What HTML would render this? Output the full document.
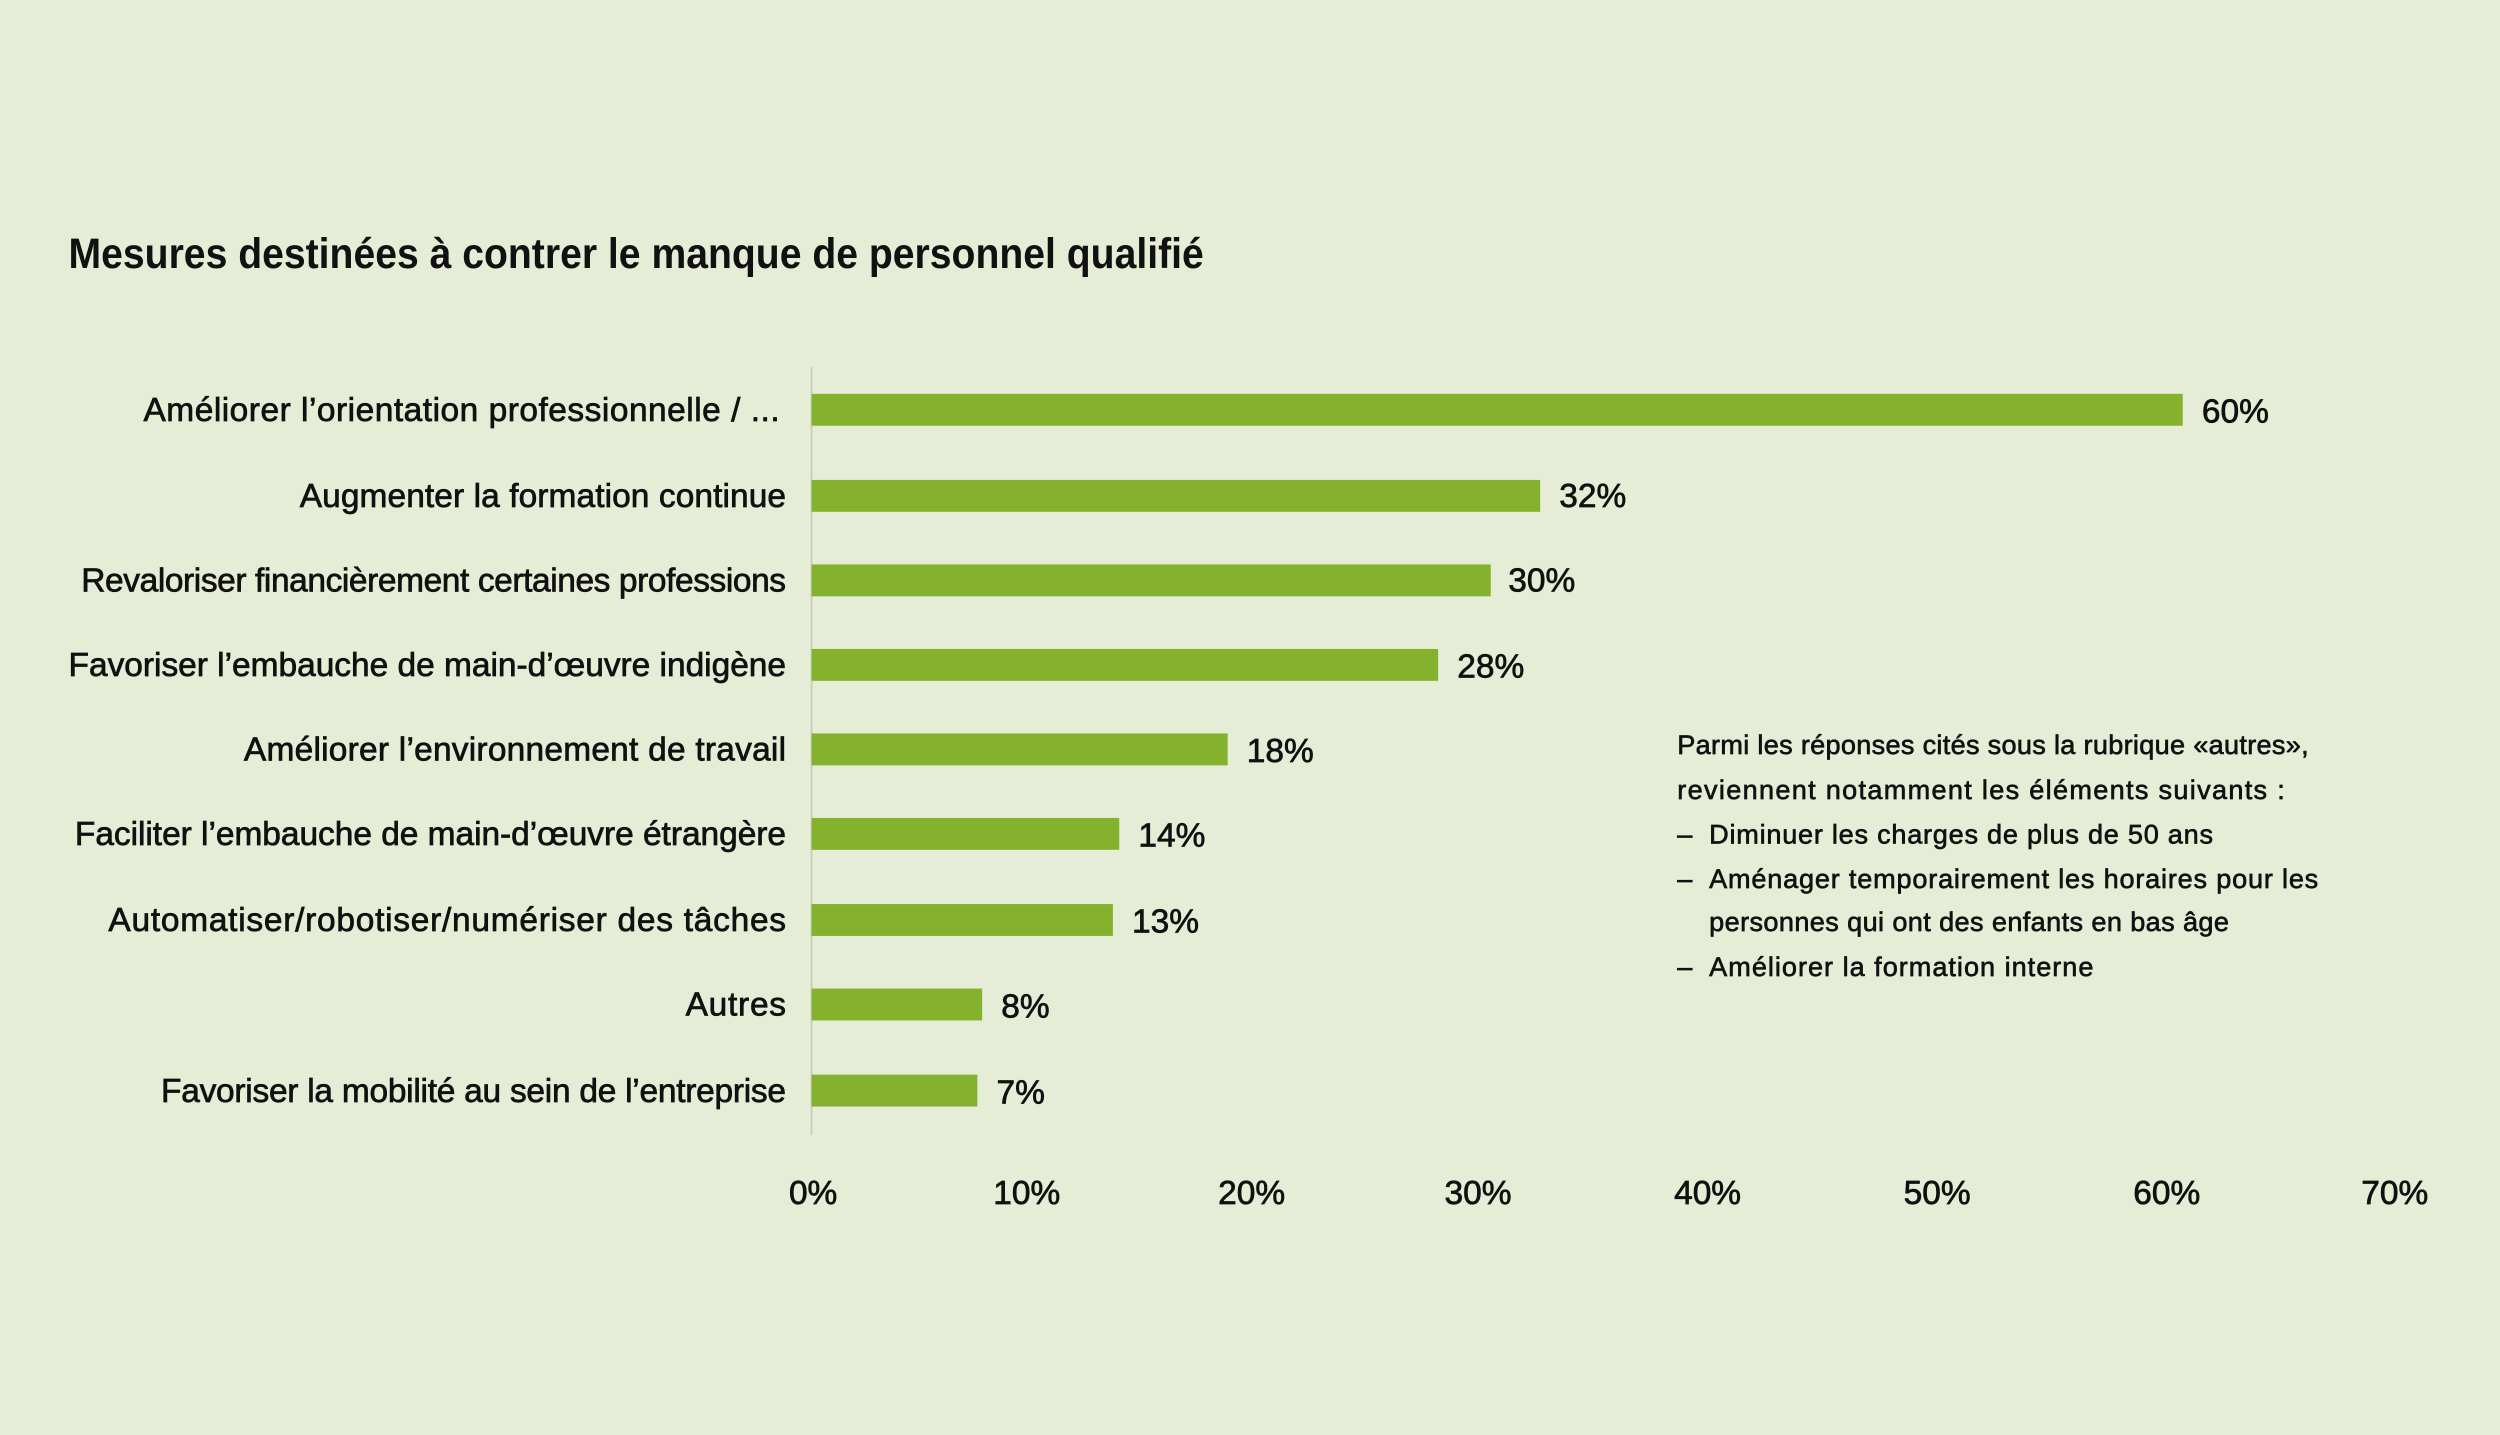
<!DOCTYPE html>
<html><head><meta charset="utf-8"><style>
html,body{margin:0;padding:0;background:#e5edd6;}
svg{display:block;}
text{font-family:"Liberation Sans",sans-serif;fill:#111;}
.m{stroke:#111;stroke-width:0.45;}
</style></head><body>
<svg width="2500" height="1435" viewBox="0 0 1568 900" preserveAspectRatio="none" xmlns="http://www.w3.org/2000/svg">
<rect width="1568" height="900" fill="#e5edd6"/>
<text x="43" y="168" font-size="27" font-weight="bold" textLength="712" lengthAdjust="spacingAndGlyphs">Mesures destinées à contrer le manque de personnel qualifié</text>
<line x1="509" y1="230" x2="509" y2="712" stroke="#c8cfbd" stroke-width="1.2"/>
<g fill="#84b22d">
<rect x="509" y="247" width="860" height="20"/>
<rect x="509" y="301" width="457" height="20"/>
<rect x="509" y="354" width="426" height="20"/>
<rect x="509" y="407" width="393" height="20"/>
<rect x="509" y="460" width="261" height="20"/>
<rect x="509" y="513" width="193" height="20"/>
<rect x="509" y="567" width="189" height="20"/>
<rect x="509" y="620" width="107" height="20"/>
<rect x="509" y="674" width="104" height="20"/>
</g>
<g class="m" font-size="21" text-anchor="end" lengthAdjust="spacingAndGlyphs">
<text x="489" y="264" textLength="399">Améliorer l’orientation professionnelle / ...</text>
<text x="493" y="318" textLength="305">Augmenter la formation continue</text>
<text x="493" y="371" textLength="442">Revaloriser financièrement certaines professions</text>
<text x="493" y="424" textLength="450">Favoriser l’embauche de main-d’œuvre indigène</text>
<text x="493" y="477" textLength="340">Améliorer l’environnement de travail</text>
<text x="493" y="530" textLength="446">Faciliter l’embauche de main-d’œuvre étrangère</text>
<text x="493" y="584" textLength="425">Automatiser/robotiser/numériser des tâches</text>
<text x="493" y="637" textLength="63">Autres</text>
<text x="493" y="691" textLength="392">Favoriser la mobilité au sein de l’entreprise</text>
</g>
<g class="m" font-size="21">
<text x="1381" y="265">60%</text>
<text x="978" y="318">32%</text>
<text x="946" y="371">30%</text>
<text x="914" y="425">28%</text>
<text x="782" y="478">18%</text>
<text x="714" y="531">14%</text>
<text x="710" y="585">13%</text>
<text x="628" y="638">8%</text>
<text x="625" y="692">7%</text>
</g>
<g class="m" font-size="21" text-anchor="middle">
<text x="510" y="755">0%</text>
<text x="644" y="755">10%</text>
<text x="785" y="755">20%</text>
<text x="927" y="755">30%</text>
<text x="1071" y="755">40%</text>
<text x="1215" y="755">50%</text>
<text x="1359" y="755">60%</text>
<text x="1502" y="755">70%</text>
</g>
<g class="m" font-size="17" lengthAdjust="spacingAndGlyphs" style="stroke-width:0.4">
<text x="1052" y="473" textLength="396">Parmi les réponses cités sous la rubrique «autres»,</text>
<text x="1052" y="501" textLength="381">reviennent notamment les éléments suivants :</text>
<text x="1052" y="529">–</text><text x="1072" y="529" textLength="316">Diminuer les charges de plus de 50 ans</text>
<text x="1052" y="557">–</text><text x="1072" y="557" textLength="382">Aménager temporairement les horaires pour les</text>
<text x="1072" y="584" textLength="326">personnes qui ont des enfants en bas âge</text>
<text x="1052" y="612">–</text><text x="1072" y="612" textLength="241">Améliorer la formation interne</text>
</g>
</svg>
</body></html>
